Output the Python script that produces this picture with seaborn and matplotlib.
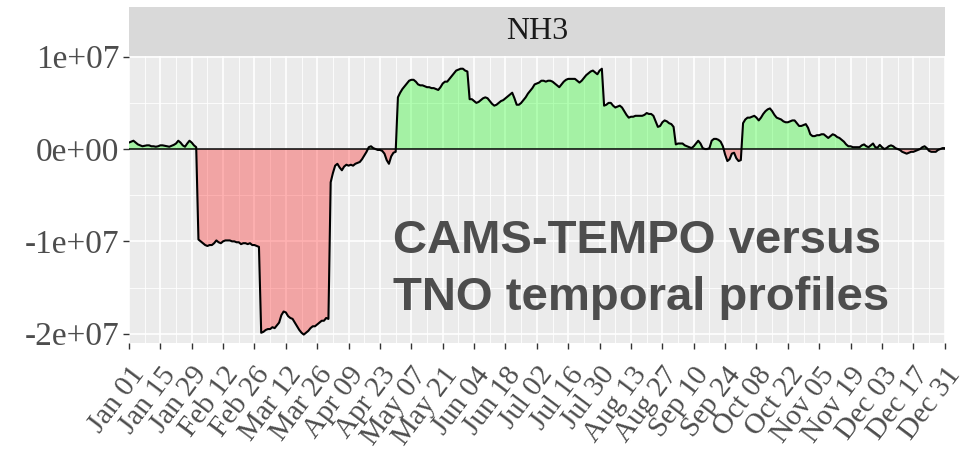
import numpy as np
import pandas as pd
import matplotlib
matplotlib.use("Agg")
import matplotlib.pyplot as plt
import matplotlib.dates as mdates
import matplotlib.ticker as mticker
import seaborn as sns

# daily difference CAMS-TEMPO minus TNO, in units of 1e6
jan = [0.7, 0.8, 0.9, 0.7, 0.5, 0.4, 0.3, 0.35, 0.4, 0.4, 0.3, 0.3, 0.25, 0.3, 0.4, 0.4,
       0.35, 0.3, 0.25, 0.35, 0.45, 0.6, 0.9, 0.7, 0.4, 0.25, 0.6, 0.9, 0.7, 0.4, 0.2]
feb = [-9.8, -10.0, -10.2, -10.4, -10.5, -10.4, -10.4, -10.2, -9.9, -10.1, -10.2, -10.0,
       -9.9, -9.9, -9.9, -10.0, -10.0, -10.1, -10.1, -10.3, -10.2, -10.2, -10.3, -10.2,
       -10.4, -10.4, -10.5, -10.6]
mar = [-19.9, -19.8, -19.6, -19.5, -19.5, -19.3, -19.4, -19.1, -18.8, -18.0, -17.6, -17.7,
       -18.1, -18.3, -18.4, -18.8, -19.2, -19.6, -19.9, -20.1, -19.9, -19.7, -19.4, -19.2,
       -19.2, -19.0, -18.8, -18.6, -18.6, -18.3, -18.4]
apr = [-3.6, -2.6, -1.8, -1.6, -2.0, -2.3, -1.9, -1.7, -1.8, -1.7, -1.8, -1.6, -1.5, -1.4,
       -1.1, -0.7, -0.3, 0.2, 0.3, 0.1, 0.0, -0.1, -0.1, -0.2, -0.5, -1.2, -1.6, -0.8, -0.4, -0.3]
may = [5.6, 6.1, 6.5, 6.8, 7.1, 7.4, 7.5, 7.5, 7.3, 7.0, 6.9, 6.9, 6.8, 6.7, 6.7, 6.6, 6.6,
       6.5, 6.4, 6.7, 7.1, 7.3, 7.3, 7.6, 7.9, 8.2, 8.5, 8.6, 8.7, 8.7, 8.5]
jun = [8.4, 5.4, 5.4, 5.2, 5.0, 5.1, 5.3, 5.5, 5.6, 5.5, 5.2, 4.9, 4.7, 4.8, 5.0, 5.2, 5.3,
       5.5, 5.7, 5.9, 6.1, 5.5, 4.8, 4.8, 5.0, 5.3, 5.6, 6.0, 6.3, 6.6]
jul = [7.0, 7.1, 7.2, 7.4, 7.4, 7.3, 7.4, 7.4, 7.3, 7.1, 6.9, 6.7, 7.0, 7.3, 7.5, 7.6, 7.6,
       7.6, 7.6, 7.4, 7.2, 7.4, 7.7, 8.0, 8.2, 8.4, 8.5, 8.3, 8.1, 8.5, 8.7]
aug = [4.7, 4.8, 5.0, 5.0, 4.7, 4.5, 4.6, 4.7, 4.5, 4.1, 3.7, 3.4, 3.5, 3.5, 3.6, 3.6, 3.6,
       3.6, 3.7, 3.9, 3.8, 3.8, 3.6, 3.0, 2.4, 2.5, 2.9, 3.1, 3.0, 2.8, 2.7]
sep = [2.4, 0.5, 0.6, 0.6, 0.6, 0.4, 0.3, 0.2, 0.1, 0.3, 0.6, 0.9, 0.6, 0.1, 0.0, 0.0, 0.1,
       0.9, 1.1, 1.1, 1.0, 0.8, 0.3, -0.6, -1.3, -1.1, -0.5, -0.4, -1.0, -1.3]
oct_ = [-1.2, 2.8, 3.2, 3.4, 3.4, 3.5, 3.6, 3.4, 3.1, 3.4, 3.8, 4.1, 4.3, 4.4, 4.1, 3.7, 3.4,
        3.3, 3.2, 3.0, 2.9, 2.9, 3.0, 3.1, 3.1, 2.8, 2.5, 2.5, 2.6, 2.7, 2.3]
nov = [1.6, 1.4, 1.4, 1.5, 1.5, 1.6, 1.6, 1.4, 1.2, 1.4, 1.6, 1.5, 1.3, 1.2, 1.0, 0.8, 0.5,
       0.3, 0.3, 0.2, 0.2, 0.2, 0.2, 0.4, 0.5, 0.3, 0.2, 0.4, 0.6, 0.2]
dec = [0.15, 0.45, 0.2, 0.0, 0.1, 0.3, 0.4, 0.3, 0.1, 0.0, -0.1, -0.3, -0.4, -0.5, -0.4,
       -0.3, -0.3, -0.2, -0.1, 0.0, 0.2, 0.3, 0.1, -0.2, -0.3, -0.3, -0.3, -0.1, 0.0, 0.1, 0.1]

y_ticks = [-2e7, -1e7, 0, 1e7]
y_tick_labels = ["-2e+07", "-1e+07", "0e+00", "1e+07"]
panel_label = "NH3"
note_lines = ["CAMS-TEMPO versus", "TNO temporal profiles"]

values = np.array(jan + feb + mar + apr + may + jun + jul + aug + sep + oct_ + nov + dec) * 1e6
dates = pd.date_range("2019-01-01", periods=len(values), freq="D")
df = pd.DataFrame({"date": dates, "diff": values})

sns.set_theme(style="darkgrid", rc={"axes.facecolor": "#EBEBEB", "grid.color": "white"})
plt.rcParams["font.family"] = ["Liberation Serif", "DejaVu Serif"]

fig = plt.figure(figsize=(9.77, 4.5), dpi=100)
ax = fig.add_axes([0.132, 0.238, 0.835, 0.638])

ax.fill_between(df["date"], df["diff"], 0, where=df["diff"] >= 0, interpolate=True,
                color="#00FF00", alpha=0.3, lw=0, zorder=2)
ax.fill_between(df["date"], df["diff"], 0, where=df["diff"] <= 0, interpolate=True,
                color="#FF0000", alpha=0.3, lw=0, zorder=2)
ax.axhline(0, color="black", lw=1.1, zorder=3)
sns.lineplot(data=df, x="date", y="diff", color="black", lw=1.5, ax=ax, zorder=4)

major = pd.date_range("2019-01-01", "2019-12-31", freq="14D")
minor = major[:-1] + pd.Timedelta(days=7)
ax.set_xlim(dates[0], dates[-1])
ax.xaxis.set_major_locator(mticker.FixedLocator(mdates.date2num(major)))
ax.xaxis.set_minor_locator(mticker.FixedLocator(mdates.date2num(minor)))
ax.set_xticklabels([d.strftime("%b %d") for d in major], rotation=53, ha="right",
                   va="top", rotation_mode="anchor")

ax.set_ylim(-2.1e7, 1.01e7)
ax.yaxis.set_major_locator(mticker.FixedLocator(y_ticks))
ax.yaxis.set_minor_locator(mticker.FixedLocator([-1.5e7, -0.5e7, 0.5e7]))
ax.set_yticklabels(y_tick_labels)

ax.grid(which="major", color="white", lw=1.2)
ax.grid(which="minor", color="white", lw=0.6)
ax.set_axisbelow(True)
for s in ax.spines.values():
    s.set_visible(False)
ax.tick_params(axis="both", which="major", length=4, width=1, color="#333333",
               labelcolor="#4D4D4D", labelsize=24, pad=3, bottom=True, left=True)
ax.tick_params(axis="x", labelsize=21, pad=10)
ax.tick_params(which="minor", length=0)
ax.set_xlabel("")
ax.set_ylabel("")

ax.text(0.3235, 0.3136, note_lines[0], transform=ax.transAxes, fontsize=34,
        fontweight="bold", color="#4D4D4D", family=["Liberation Sans", "DejaVu Sans"],
        ha="left", va="baseline", zorder=5)
ax.text(0.3235, 0.115, note_lines[1], transform=ax.transAxes, fontsize=34,
        fontweight="bold", color="#4D4D4D", family=["Liberation Sans", "DejaVu Sans"],
        ha="left", va="baseline", zorder=5)

strip = fig.add_axes([0.132, 0.8756, 0.835, 0.1089])
strip.set_facecolor("#D9D9D9")
strip.set_xticks([])
strip.set_yticks([])
strip.grid(False)
for s in strip.spines.values():
    s.set_visible(False)
strip.text(0.5, 0.5, panel_label, ha="center", va="center", fontsize=23, color="#1A1A1A")

fig.savefig("out.png", dpi=100)
